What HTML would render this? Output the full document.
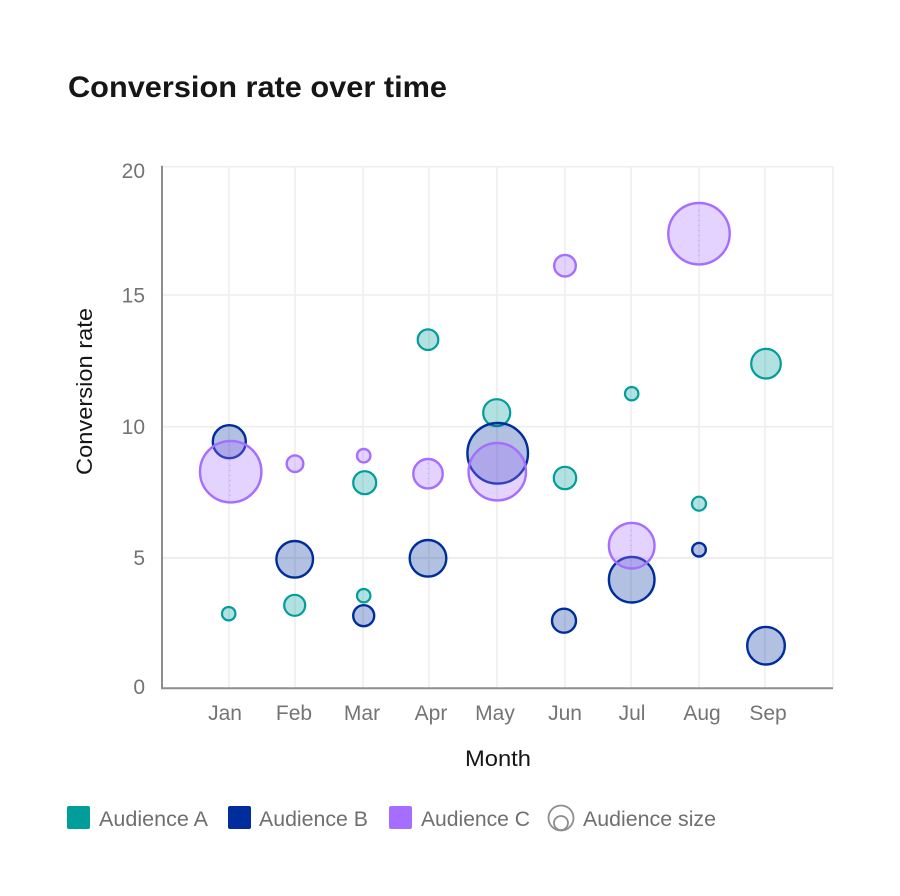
<!DOCTYPE html>
<html>
<head>
<meta charset="utf-8">
<style>
  html, body { margin: 0; padding: 0; background: #ffffff; }
  svg { display: block; }
  text { font-family: "Liberation Sans", Arial, sans-serif; }
</style>
</head>
<body>
<svg width="900" height="896" viewBox="0 0 900 896" xmlns="http://www.w3.org/2000/svg">
  <rect width="900" height="896" fill="#ffffff"/>

  <!-- Title -->
  <text x="68" y="97" font-size="30" font-weight="bold" fill="#161616" textLength="379" lengthAdjust="spacingAndGlyphs">Conversion rate over time</text>

  <!-- Gridlines -->
  <g stroke="#eeeeee" stroke-width="1.6">
    <line x1="162" y1="166.7" x2="833" y2="166.7"/>
    <line x1="162" y1="295" x2="833" y2="295"/>
    <line x1="162" y1="426.7" x2="833" y2="426.7"/>
    <line x1="162" y1="558" x2="833" y2="558" stroke-width="2.2"/>
    <line x1="229" y1="166.7" x2="229" y2="688"/>
    <line x1="295" y1="166.7" x2="295" y2="688"/>
    <line x1="363" y1="166.7" x2="363" y2="688"/>
    <line x1="429" y1="166.7" x2="429" y2="688"/>
    <line x1="497" y1="166.7" x2="497" y2="688"/>
    <line x1="565" y1="166.7" x2="565" y2="688"/>
    <line x1="631" y1="166.7" x2="631" y2="688"/>
    <line x1="699" y1="166.7" x2="699" y2="688"/>
    <line x1="765" y1="166.7" x2="765" y2="688"/>
    <line x1="833" y1="166.7" x2="833" y2="688"/>
  </g>

  <!-- Axes -->
  <g stroke="#8d8d8d" stroke-width="2">
    <line x1="162" y1="165.7" x2="162" y2="689"/>
    <line x1="161" y1="688.3" x2="833" y2="688.3"/>
  </g>

  <!-- Y tick labels -->
  <g font-size="21" fill="#747474" text-anchor="end">
    <text x="145" y="178">20</text>
    <text x="145" y="302.5">15</text>
    <text x="145" y="434">10</text>
    <text x="145" y="565">5</text>
    <text x="145" y="694">0</text>
  </g>

  <!-- X tick labels -->
  <g font-size="21" fill="#747474" text-anchor="middle">
    <text x="225" y="720">Jan</text>
    <text x="294" y="720">Feb</text>
    <text x="362" y="720">Mar</text>
    <text x="431" y="720">Apr</text>
    <text x="495" y="720">May</text>
    <text x="565" y="720">Jun</text>
    <text x="632" y="720">Jul</text>
    <text x="702" y="720">Aug</text>
    <text x="768" y="720">Sep</text>
  </g>

  <!-- Axis titles -->
  <text x="498" y="766" font-size="22" fill="#161616" text-anchor="middle" textLength="66" lengthAdjust="spacingAndGlyphs">Month</text>
  <text transform="translate(92,391.5) rotate(-90)" x="0" y="0" font-size="22" fill="#161616" text-anchor="middle" textLength="167" lengthAdjust="spacingAndGlyphs">Conversion rate</text>

  <!-- Audience A (teal) -->
  <g fill="rgba(0,157,154,0.3)" stroke="#009d9a" stroke-width="2.2">
    <circle cx="228.7" cy="613.7" r="6.7"/>
    <circle cx="294.7" cy="605.3" r="10.5"/>
    <circle cx="364.7" cy="482.7" r="11.5"/>
    <circle cx="363.7" cy="595.7" r="6.7"/>
    <circle cx="428" cy="339.7" r="10.3"/>
    <circle cx="496.7" cy="412.7" r="13.5"/>
    <circle cx="565" cy="478" r="11.2"/>
    <circle cx="631.7" cy="393.7" r="6.7"/>
    <circle cx="699" cy="503.7" r="7"/>
    <circle cx="766" cy="363.7" r="14.8"/>
  </g>

  <!-- Audience B (blue) -->
  <g fill="rgba(0,45,156,0.3)" stroke="#002d9c" stroke-width="2.4">
    <circle cx="229.3" cy="441.7" r="16.5"/>
    <circle cx="294.7" cy="559.3" r="18.3"/>
    <circle cx="363.7" cy="615.7" r="10.5"/>
    <circle cx="428" cy="558.3" r="18.3"/>
    <circle cx="497.7" cy="453.3" r="30.3"/>
    <circle cx="564" cy="620.7" r="12"/>
    <circle cx="631.7" cy="579.7" r="22.8"/>
    <circle cx="699" cy="549.7" r="6.8"/>
    <circle cx="766" cy="645.7" r="18.8"/>
  </g>

  <!-- Audience C (purple) -->
  <g fill="rgba(165,110,255,0.3)" stroke="#a56eff" stroke-width="2.4">
    <circle cx="230.7" cy="471.7" r="30.7"/>
    <circle cx="295" cy="463.7" r="8.3"/>
    <circle cx="363.7" cy="455.7" r="6.7"/>
    <circle cx="428" cy="473.7" r="14.7"/>
    <circle cx="497.3" cy="471.7" r="28.7"/>
    <circle cx="565" cy="265.7" r="10.8"/>
    <circle cx="631.7" cy="545.7" r="22.8"/>
    <circle cx="699" cy="233.7" r="30.7"/>
  </g>

  <!-- faint dotted inner lines -->
  <g stroke="#a56eff" stroke-width="1" stroke-dasharray="1 4" opacity="0.5">
    <line x1="230" y1="445" x2="230" y2="498"/>
    <line x1="699" y1="210" x2="699" y2="258"/>
    <line x1="631" y1="530" x2="631" y2="565"/>
    <line x1="428" y1="463" x2="428" y2="485"/>
  </g>

  <!-- Legend -->
  <rect x="67" y="806" width="23" height="23" rx="2" fill="#009d9a"/>
  <text x="99" y="826" font-size="21" fill="#6f6f6f" textLength="109" lengthAdjust="spacingAndGlyphs">Audience A</text>
  <rect x="228" y="806" width="23" height="23" rx="2" fill="#002d9c"/>
  <text x="259" y="826" font-size="21" fill="#6f6f6f" textLength="109" lengthAdjust="spacingAndGlyphs">Audience B</text>
  <rect x="389" y="806" width="23" height="23" rx="2" fill="#a56eff"/>
  <text x="421" y="826" font-size="21" fill="#6f6f6f" textLength="109" lengthAdjust="spacingAndGlyphs">Audience C</text>
  <g fill="none" stroke="#8d8d8d" stroke-width="1.8">
    <circle cx="561" cy="818" r="12.5"/>
    <circle cx="561" cy="823" r="7"/>
  </g>
  <text x="583" y="826" font-size="21" fill="#6f6f6f" textLength="133" lengthAdjust="spacingAndGlyphs">Audience size</text>
</svg>
</body>
</html>
